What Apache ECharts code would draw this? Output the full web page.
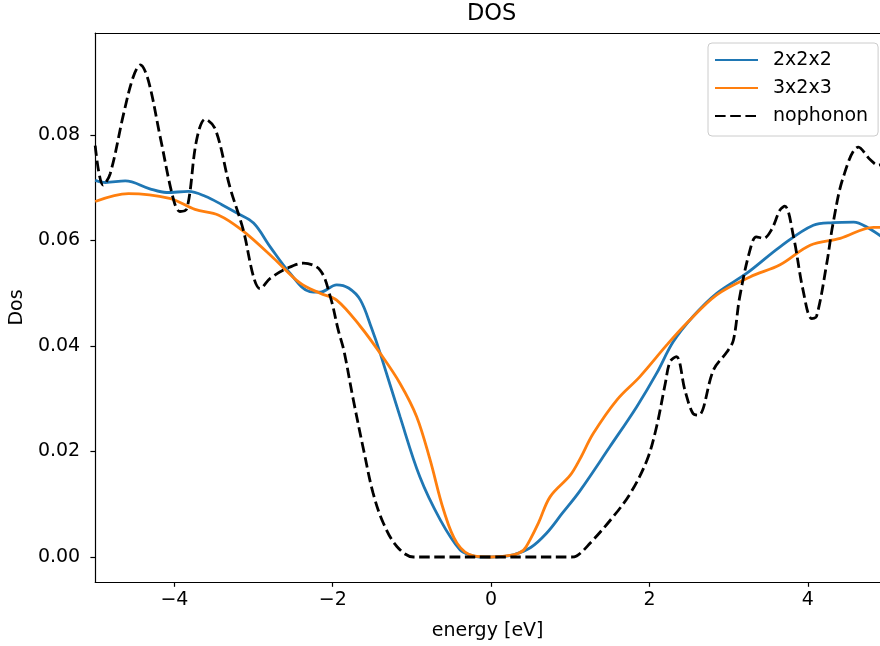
<!DOCTYPE html>
<html>
<head>
<meta charset="utf-8">
<script src="https://cdn.jsdelivr.net/npm/echarts@6/dist/echarts.min.js"></script>
<style>html,body{margin:0;padding:0;background:#fff}#c{width:880px;height:646px}</style>
</head>
<body>
<div id="c"></div>
<script>
// energies (eV) and DOS values
const energy222 = [-5.0,-4.87,-4.62,-4.31,-4.10,-3.82,-3.61,-3.4,-3.21,-3.0,-2.79,-2.54,-2.29,-2.16,-1.95,-1.8,-1.65,-1.51,-1.40,-1.15,-0.90,-0.64,-0.39,-0.25,-0.14,0.0,0.15,0.28,0.5,0.70,0.9,1.12,1.50,1.84,2.09,2.30,2.55,2.85,3.23,3.65,4.07,4.32,4.58,4.75,5.0];
const dos222    = [0.0714,0.0710,0.0713,0.0698,0.0691,0.0693,0.0684,0.0668,0.0652,0.0633,0.0588,0.0538,0.0503,0.0502,0.0516,0.0510,0.0487,0.0434,0.0386,0.0266,0.0152,0.0070,0.0013,0.0003,0.0000,0.0000,0.0001,0.0004,0.0018,0.0045,0.0083,0.0125,0.0209,0.0285,0.0348,0.0408,0.0456,0.0500,0.0538,0.0588,0.0629,0.0634,0.0635,0.0625,0.0600];

const energy323 = [-5.0,-4.58,-4.06,-3.74,-3.44,-3.15,-2.75,-2.41,-2.16,-1.95,-1.65,-1.40,-1.15,-0.94,-0.77,-0.60,-0.43,-0.22,0.0,0.28,0.41,0.49,0.60,0.745,1.0,1.12,1.29,1.59,1.88,2.22,2.47,2.85,3.27,3.65,4.03,4.41,4.83,5.0];
const dos323    = [0.0674,0.0689,0.0680,0.0659,0.0648,0.0620,0.0567,0.0519,0.0500,0.0487,0.0437,0.0386,0.0329,0.0266,0.0184,0.0089,0.0026,0.0002,0.0000,0.0004,0.0013,0.0032,0.0065,0.0114,0.0155,0.0185,0.0234,0.0298,0.0342,0.0402,0.0443,0.0497,0.0531,0.0554,0.0591,0.0604,0.0625,0.0625];

const energyNo = [-5.0,-4.9,-4.81,-4.64,-4.52,-4.43,-4.33,-4.18,-4.01,-3.93,-3.84,-3.72,-3.61,-3.48,-3.30,-3.13,-3.0,-2.92,-2.79,-2.58,-2.37,-2.16,-2.03,-1.93,-1.86,-1.74,-1.61,-1.49,-1.36,-1.19,-0.98,-0.5,0.0,0.5,1.0,1.08,1.25,1.54,1.76,1.97,2.09,2.20,2.26,2.34,2.45,2.55,2.62,2.81,2.98,3.06,3.14,3.27,3.35,3.44,3.54,3.65,3.71,3.82,3.94,4.05,4.11,4.24,4.32,4.45,4.64,4.79,4.89,5.0];
const dosNo    = [0.0780,0.0705,0.0727,0.0841,0.0910,0.0933,0.0904,0.0797,0.0677,0.0655,0.0661,0.0790,0.0830,0.0810,0.0702,0.0620,0.0531,0.0509,0.0528,0.0547,0.0557,0.0544,0.0493,0.0430,0.0392,0.0298,0.0203,0.0121,0.0064,0.0020,0.0000,0.0000,0.0000,0.0000,0.0000,0.0002,0.0026,0.0076,0.0121,0.0184,0.0247,0.0329,0.0370,0.0380,0.0315,0.0272,0.0269,0.0355,0.0389,0.0411,0.0493,0.0582,0.0607,0.0604,0.0620,0.0658,0.0665,0.0607,0.0506,0.0452,0.0456,0.0557,0.0633,0.0721,0.0777,0.0753,0.0743,0.0750];

const seriesNames = ['2x2x2','3x2x3','nophonon'];
const xTicks = [-4,-2,0,2,4];
const yTicks = [0,0.02,0.04,0.06,0.08];

const zip = (xs, ys) => xs.map((x,i)=>[x, ys[i]]);
const font = 'DejaVu Sans';
const chart = echarts.init(document.getElementById('c'), null, {renderer:'canvas'});
chart.setOption({
  animation:false,
  backgroundColor:'#fff',
  title:{text:'DOS', left:467, top:3, padding:0, textStyle:{fontFamily:font, fontSize:22.5, fontWeight:'normal', color:'#000'}},
  grid:{left:95, top:33, right:0, bottom:64, show:false},
  legend:{
    data:seriesNames, orient:'vertical', left:708, top:43,
    itemWidth:43, itemHeight:19, itemGap:9,
    padding:[7.5,10,10.5,6],
    backgroundColor:'rgba(255,255,255,0.8)', borderColor:'#ccc', borderWidth:1, borderRadius:4,
    itemStyle:{opacity:0},
    textStyle:{fontFamily:font, fontSize:19, lineHeight:19, color:'#000', padding:[0,0,0,10]}
  },
  xAxis:[{
    type:'value', min:-5, max:4.912, position:'bottom',
    name:'energy [eV]', nameLocation:'middle', nameGap:40,
    nameTextStyle:{fontFamily:font, fontSize:19, color:'#000'},
    axisLine:{show:true, onZero:false, lineStyle:{color:'#000', width:1.2}},
    axisTick:{show:true, length:4.8, customValues:xTicks, lineStyle:{color:'#000', width:1.2}},
    axisLabel:{customValues:xTicks, margin:9, fontFamily:font, fontSize:19, color:'#000',
      formatter:v=> v<0 ? '\u2212'+Math.abs(v) : String(v)},
    splitLine:{show:false}
  },{
    type:'value', min:-5, max:4.912, position:'top',
    axisLine:{show:true, onZero:false, lineStyle:{color:'#000', width:1.2}},
    axisTick:{show:false}, axisLabel:{show:false}, splitLine:{show:false}
  }],
  yAxis:{
    type:'value', min:-0.00474, max:0.09934,
    name:'Dos', nameLocation:'middle', nameGap:67,
    nameTextStyle:{fontFamily:font, fontSize:19, color:'#000'},
    axisLine:{show:true, onZero:false, lineStyle:{color:'#000', width:1.2}},
    axisTick:{show:true, length:4.8, customValues:yTicks, lineStyle:{color:'#000', width:1.2}},
    axisLabel:{customValues:yTicks, margin:15, fontFamily:font, fontSize:19, color:'#000',
      formatter:v=> v.toFixed(2)},
    splitLine:{show:false}
  },
  series:[
    {name:seriesNames[0], type:'line', data:zip(energy222,dos222), smooth:0.35, symbol:'none', clip:true,
     lineStyle:{color:'#1f77b4', width:2.8}, itemStyle:{color:'#1f77b4'}},
    {name:seriesNames[1], type:'line', data:zip(energy323,dos323), smooth:0.35, symbol:'none', clip:true,
     lineStyle:{color:'#ff7f0e', width:2.8}, itemStyle:{color:'#ff7f0e'}},
    {name:seriesNames[2], type:'line', data:zip(energyNo,dosNo), smooth:0.35, symbol:'none', clip:true,
     lineStyle:{color:'#000', width:2.8, type:[10.6,4.6]}, itemStyle:{color:'#000'}}
  ]
});
</script>
</body>
</html>
